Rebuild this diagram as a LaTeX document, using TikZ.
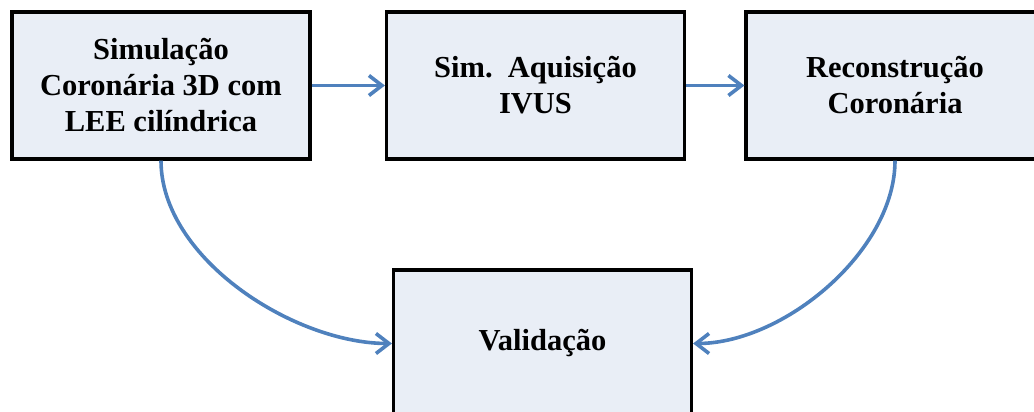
\documentclass[tikz,border=0pt]{standalone}
\usepackage{fontspec}
\setmainfont{Liberation Serif}
\usetikzlibrary{arrows.meta}
\definecolor{boxfill}{RGB}{233,238,246}
\definecolor{flowblue}{RGB}{79,129,189}

\begin{document}
\begin{tikzpicture}[x=1pt, y=1pt, ->, >={Straight Barb[length=13pt,width=20pt]}, auto]
    \tikzstyle{every node}=[font=\bfseries\fontsize{30.5}{36}\selectfont]
    \tikzstyle{block}=[draw=black, line width=3.2pt, fill=boxfill, minimum width=298pt, minimum height=147pt, inner sep=0pt, align=center]
    \tikzstyle{flow}=[draw=flowblue, line width=3.6pt]

    \useasboundingbox (0, 0) rectangle (1034, -412);

    \node[block] at (161, -85.5)   (sim)  {Simulação\\Coronária 3D com\\LEE cilíndrica};
    \node[block] at (535.5, -85.5) (aq)   {Sim.\ \ Aquisição\\IVUS};
    \node[block] at (895, -85.5)   (rec)  {Reconstrução\\Coronária};
    \node[block] at (542.5, -343.5) (val) {Validação};

    \draw[flow] (sim) -- (aq);
    \draw[flow] (aq) -- (rec);
    \draw[flow] (sim.south) to[out=-90, in=180, looseness=0.85] (val.west);
    \draw[flow] (rec.south) to[out=-90, in=0, looseness=0.85] (val.east);
\end{tikzpicture}
\end{document}
